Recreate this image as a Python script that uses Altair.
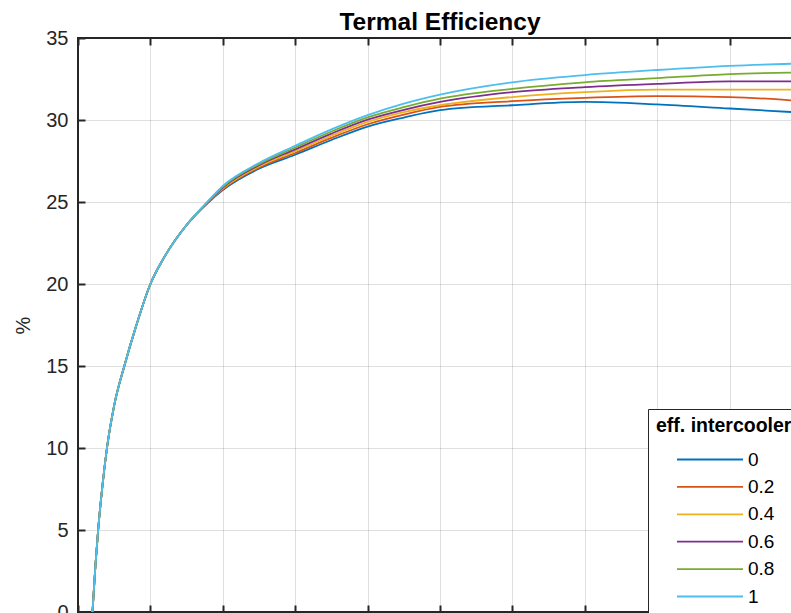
import altair as alt
import pandas as pd

# pressure ratio (x) sample points
beta = [1.0, 1.2, 1.4, 1.7, 2.0, 2.5, 3.2, 4.0, 5.0, 6.0, 7.5,
        9.0, 10, 12.5, 15, 17.5, 20, 22.5, 25, 30, 35, 40, 45, 50]
# shared early part (curves overlap)
common = [0.0, 2.8, 5.1, 7.8, 10.0, 12.6, 15.0, 17.4, 20.0, 21.7, 23.6]

eff_00 = common + [24.97, 25.73, 27.03, 27.88, 28.78, 29.6, 30.15, 30.6, 30.9, 31.1, 30.95, 30.7, 30.45]
eff_02 = common + [24.99, 25.78, 27.10, 27.99, 28.91, 29.74, 30.33, 30.8, 31.15, 31.35, 31.45, 31.4, 31.15]
eff_04 = common + [25.01, 25.83, 27.17, 28.10, 29.04, 29.88, 30.48, 30.9, 31.4, 31.7, 31.85, 31.85, 31.85]
eff_06 = common + [25.03, 25.88, 27.24, 28.21, 29.17, 30.02, 30.62, 31.1, 31.7, 32.0, 32.2, 32.35, 32.35]
eff_08 = common + [25.05, 25.93, 27.31, 28.32, 29.30, 30.16, 30.78, 31.3, 31.9, 32.3, 32.55, 32.8, 32.9]
eff_10 = common + [25.07, 25.98, 27.38, 28.43, 29.43, 30.30, 31.0, 31.55, 32.3, 32.74, 33.05, 33.3, 33.45]

series_labels = ["0", "0.2", "0.4", "0.6", "0.8", "1"]
series_values = [eff_00, eff_02, eff_04, eff_06, eff_08, eff_10]
colors = ["#0072BD", "#D95319", "#EDB120", "#7E2F8E", "#77AC30", "#4DBEEE"]

x_ticks = [0, 5, 10, 15, 20, 25, 30, 35, 40, 45, 50]
y_ticks = [0, 5, 10, 15, 20, 25, 30, 35]

rows = []
for i, (lab, vals) in enumerate(zip(series_labels, series_values)):
    for b, v in zip(beta, vals):
        rows.append({"beta": b, "eff": v, "ic": lab, "k": i})
df = pd.DataFrame(rows)

FONT = "Liberation Sans"
AX = "#262626"

x_scale = alt.Scale(domain=[0, 50], nice=False, zero=False)
y_scale = alt.Scale(domain=[0, 35], nice=False)

y_axis = alt.Axis(title="%", values=y_ticks, domain=False, ticks=True,
                  tickSize=7, offset=-7, tickColor=AX, tickWidth=2,
                  labelPadding=10, labelFontSize=20, labelFont=FONT,
                  labelColor=AX, titleFont=FONT, titleFontSize=20,
                  titleFontWeight="normal", titleColor=AX, titlePadding=12,
                  grid=True, gridColor=AX, gridOpacity=0.15, gridWidth=1)

lines = alt.Chart(df).mark_line(strokeWidth=1.8, interpolate="monotone", clip=True).encode(
    x=alt.X("beta:Q", scale=x_scale,
            axis=alt.Axis(orient="top", title=None, labels=False, values=x_ticks,
                          domain=False, ticks=True, tickSize=7, offset=-7,
                          tickColor=AX, tickWidth=2,
                          grid=True, gridColor=AX, gridOpacity=0.15, gridWidth=1)),
    y=alt.Y("eff:Q", scale=y_scale, axis=y_axis),
    color=alt.Color("ic:N",
                    scale=alt.Scale(domain=series_labels, range=colors),
                    legend=alt.Legend(title="eff. intercooler", orient="none",
                                      legendX=570, legendY=371,
                                      symbolType="M-3,0H3", symbolSize=484,
                                      symbolOffset=42, symbolStrokeWidth=1.8,
                                      labelFont=FONT, labelFontSize=19, labelColor="black",
                                      labelOffset=26, rowPadding=5.4,
                                      titleFont=FONT, titleFontSize=19.5, titleFontWeight="bold",
                                      titleColor="black", titlePadding=11,
                                      fillColor="white", strokeColor=AX, padding=8,
                                      cornerRadius=0)),
    order=alt.Order("k:Q"),
)

# invisible copy that only carries the bottom (inward) x ticks
bottom_ticks = alt.Chart(df).mark_line(opacity=0, clip=True).encode(
    x=alt.X("beta:Q", scale=x_scale,
            axis=alt.Axis(orient="bottom", title=None, labels=False, values=x_ticks,
                          domain=False, ticks=True, tickSize=7, offset=-7,
                          tickColor=AX, tickWidth=2, grid=False)),
    y=alt.Y("eff:Q", scale=y_scale, axis=y_axis),
    detail="ic:N",
)

chart = alt.layer(lines, bottom_ticks).resolve_axis(x="independent").properties(
    width=724,
    height=574,
    title=alt.TitleParams("Termal Efficiency", font=FONT, fontSize=24.5, fontWeight="bold",
                          color="black", frame="group", anchor="middle", offset=6, dy=13),
    autosize=alt.AutoSizeParams(type="none"),
    padding={"left": 78, "top": 38, "right": -11, "bottom": 1},
).configure(background="white").configure_view(stroke=AX, strokeWidth=2)

chart.save("out.html", embed_options={"renderer": "svg", "actions": False})
